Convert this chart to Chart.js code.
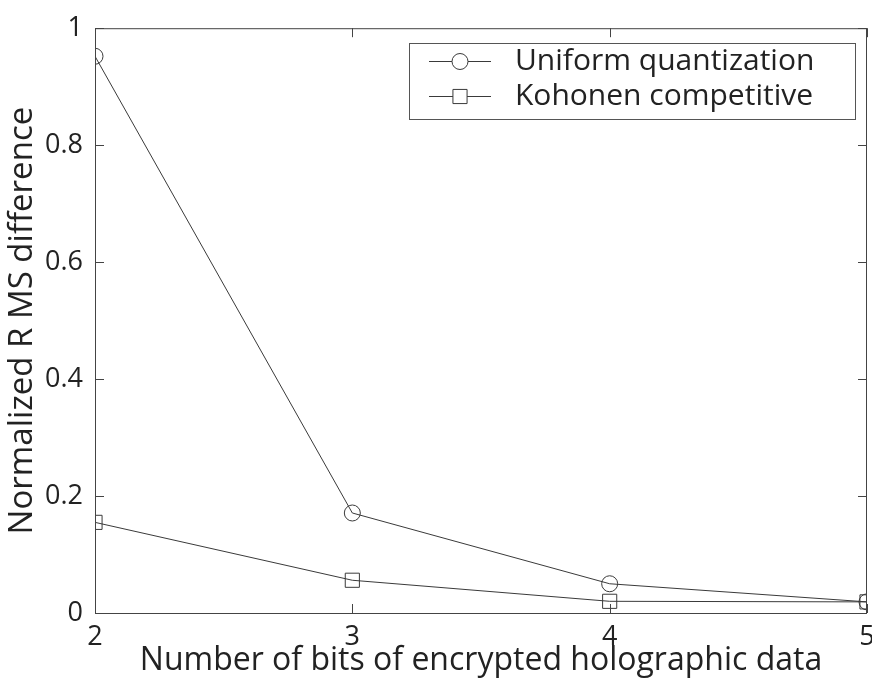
<!DOCTYPE html>
<html lang="en">
<head>
    <meta charset="UTF-8">
    <title>Normalized RMS difference vs number of bits</title>
    <script src="https://cdn.jsdelivr.net/npm/chart.js"></script>
    <style>
        body { margin: 0; background: #fff; }
        #wrap { width: 872px; height: 683px; }
    </style>
</head>
<body>
<div id="wrap"><canvas id="myChart" width="872" height="683"></canvas></div>

<script>
    // data
    const bits = [2, 3, 4, 5];
    const uniformQuant = [0.952, 0.171, 0.050, 0.019];
    const kohonen = [0.155, 0.056, 0.020, 0.019];
    const seriesNames = ['Uniform quantization', 'Kohonen competitive'];
    const yTicks = [0, 0.2, 0.4, 0.6, 0.8, 1];

    const ink = '#222';
    const lineCol = '#3a3a3a';
    const font = '"Open Sans", "DejaVu Sans", sans-serif';

    function toPoints(vals) {
        return bits.map((b, i) => ({ x: b, y: vals[i] }));
    }

    // box around the plot + small inward ticks on all four sides (matlab style)
    const boxPlugin = {
        id: 'box',
        afterDraw(chart) {
            const ctx = chart.ctx;
            const a = chart.chartArea;
            const xs = chart.scales.x, ys = chart.scales.y;
            const len = 9;
            ctx.save();
            ctx.strokeStyle = '#444';
            ctx.lineWidth = 1;
            ctx.strokeRect(a.left + 0.5, a.top + 0.5, a.right - a.left - 1, a.bottom - a.top);
            ctx.beginPath();
            bits.forEach(b => {
                const px = Math.round(xs.getPixelForValue(b)) + 0.5;
                ctx.moveTo(px, a.bottom); ctx.lineTo(px, a.bottom - len);
                ctx.moveTo(px, a.top); ctx.lineTo(px, a.top + len);
            });
            yTicks.forEach(v => {
                const py = Math.round(ys.getPixelForValue(v)) + 0.5;
                ctx.moveTo(a.left, py); ctx.lineTo(a.left + len, py);
                ctx.moveTo(a.right, py); ctx.lineTo(a.right - len, py);
            });
            ctx.stroke();
            ctx.restore();
        }
    };

    // legend box inside the top right corner
    const legendPlugin = {
        id: 'boxLegend',
        afterDraw(chart) {
            const ctx = chart.ctx;
            const bx = 409, by = 43, bw = 446, bh = 76;
            const rows = [61, 96];
            ctx.save();
            ctx.fillStyle = '#fff';
            ctx.fillRect(bx, by, bw, bh);
            ctx.strokeStyle = '#555';
            ctx.lineWidth = 1;
            ctx.strokeRect(bx + 0.5, by + 0.5, bw, bh);
            chart.data.datasets.forEach((ds, i) => {
                const y = rows[i] + 0.5;
                ctx.strokeStyle = lineCol;
                ctx.beginPath();
                ctx.moveTo(429, y); ctx.lineTo(491, y);
                ctx.stroke();
                ctx.fillStyle = '#fff';
                ctx.beginPath();
                if (ds.pointStyle === 'circle') {
                    ctx.arc(460, y, ds.pointRadius, 0, Math.PI * 2);
                } else {
                    const s = ds.pointRadius * Math.SQRT1_2;
                    ctx.rect(460 - s, y - s, 2 * s, 2 * s);
                }
                ctx.fill();
                ctx.stroke();
                ctx.fillStyle = ink;
                ctx.font = '30px ' + font;
                ctx.textBaseline = 'middle';
                ctx.fillText(ds.label, 515, rows[i]);
            });
            ctx.restore();
        }
    };

    const ctx = document.getElementById('myChart').getContext('2d');
    const myChart = new Chart(ctx, {
        type: 'line',
        data: {
            datasets: [{
                label: seriesNames[0],
                data: toPoints(uniformQuant),
                borderColor: lineCol,
                borderWidth: 1,
                pointStyle: 'circle',
                pointRadius: 8,
                pointBorderColor: lineCol,
                pointBackgroundColor: 'rgba(0,0,0,0)',
                pointBorderWidth: 1,
                tension: 0
            }, {
                label: seriesNames[1],
                data: toPoints(kohonen),
                borderColor: lineCol,
                borderWidth: 1,
                pointStyle: 'rect',
                pointRadius: 10,
                pointBorderColor: lineCol,
                pointBackgroundColor: 'rgba(0,0,0,0)',
                pointBorderWidth: 1,
                tension: 0
            }]
        },
        options: {
            responsive: false,
            animation: false,
            layout: { autoPadding: false, padding: { top: 24, right: 5, left: 0, bottom: 0 } },
            plugins: {
                legend: { display: false },
                tooltip: { enabled: false }
            },
            scales: {
                x: {
                    type: 'linear',
                    min: 2,
                    max: 5,
                    afterBuildTicks(scale) {
                        scale.ticks = bits.map(v => ({ value: v }));
                    },
                    afterFit(scale) {
                        scale.height = 70;
                        scale.paddingLeft = 0;
                        scale.paddingRight = 0;
                    },
                    grid: { display: false, drawTicks: false },
                    border: { display: false },
                    ticks: {
                        padding: 8,
                        color: ink,
                        maxRotation: 0,
                        font: { family: font, size: 27 }
                    },
                    title: {
                        display: true,
                        text: 'Number of bits of encrypted holographic data',
                        color: ink,
                        padding: { top: 0, bottom: 3 },
                        font: { family: font, size: 32 }
                    }
                },
                y: {
                    min: 0,
                    max: 1,
                    afterBuildTicks(scale) {
                        scale.ticks = yTicks.map(v => ({ value: v }));
                    },
                    afterFit(scale) {
                        scale.width = 95;
                    },
                    grid: { display: false, drawTicks: false },
                    border: { display: false },
                    ticks: {
                        padding: 12,
                        color: ink,
                        font: { family: font, size: 27 },
                        callback: v => String(+v.toFixed(1))
                    },
                    title: {
                        display: true,
                        text: 'Normalized R MS difference',
                        color: ink,
                        padding: { top: 3, bottom: 0 },
                        font: { family: font, size: 33 }
                    }
                }
            }
        },
        plugins: [boxPlugin, legendPlugin]
    });
</script>
</body>
</html>
